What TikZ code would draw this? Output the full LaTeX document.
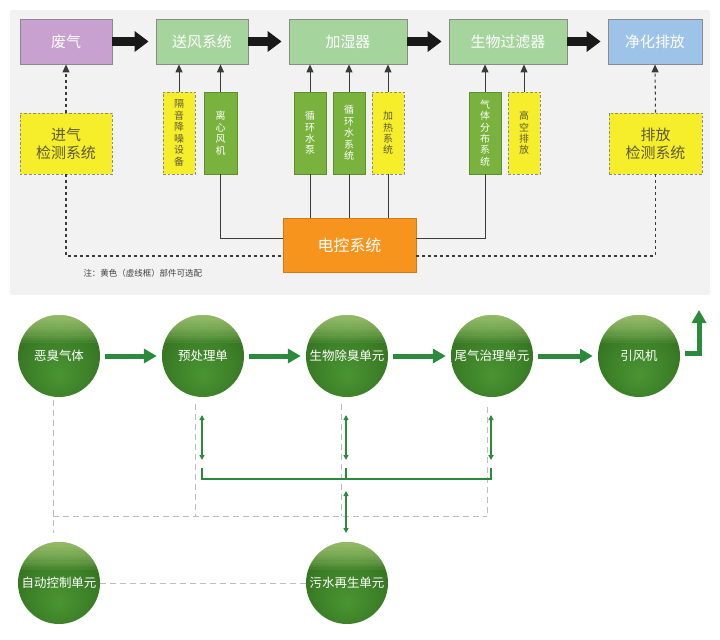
\documentclass[tikz,border=0pt]{standalone}
\usepackage{fontspec}
\setmainfont{Noto Sans CJK SC}
\usetikzlibrary{arrows.meta}
\definecolor{bgtop}{HTML}{F2F2F2}
\definecolor{purp}{HTML}{C9A1D1}
\definecolor{lgreen}{HTML}{A5D59C}
\definecolor{lblue}{HTML}{9EC3E8}
\definecolor{dgreen}{HTML}{79B23D}
\definecolor{dgreenline}{HTML}{5E8F2C}
\definecolor{yel}{HTML}{F6EE2B}
\definecolor{orng}{HTML}{F7941D}
\definecolor{orngline}{HTML}{D07A1C}
\definecolor{boxline}{HTML}{8A8A8A}
\definecolor{ytext}{HTML}{5C5A3A}
\definecolor{darkline}{HTML}{3A3A3A}
\definecolor{arrg}{HTML}{2B8A3B}
\definecolor{dashg}{HTML}{BDBDBD}
\definecolor{hl}{HTML}{C6E28C}
\definecolor{bA}{HTML}{4A9532}
\definecolor{bB}{HTML}{3A7C26}
\definecolor{bC}{HTML}{2B6019}
\definecolor{bD}{HTML}{1E4A10}
\pgfdeclareradialshading{ballg}{\pgfpoint{0bp}{-12bp}}{color(0bp)=(bA); color(22bp)=(bB); color(42bp)=(bC); color(52bp)=(bD)}
\tikzset{
  mainbox/.style={draw=boxline, line width=0.8bp, minimum height=45bp, inner sep=0pt, text=white, font=\fontsize{15}{17}\selectfont},
  vboxg/.style={draw=dgreenline, line width=0.8bp, fill=dgreen, minimum width=32bp, minimum height=82bp, inner sep=0pt, text=white, align=center, font=\fontsize{10}{11.5}\selectfont},
  vboxy/.style={draw=boxline, line width=0.9bp, dash pattern=on 2.5bp off 2bp, fill=yel, minimum width=32bp, minimum height=82bp, inner sep=0pt, text=ytext, align=center, font=\fontsize{10}{11.5}\selectfont},
  detbox/.style={draw=boxline, line width=0.9bp, dash pattern=on 2.5bp off 2bp, fill=yel, minimum height=61bp, inner sep=0pt, text=ytext, align=center, font=\fontsize{15}{18}\selectfont},
  bigarrow/.style={draw=black!90, line width=9bp, -{Triangle[length=14bp,width=20bp]}, shorten >=7bp},
  sarrow/.style={draw=darkline, line width=1bp, -{Triangle[length=8bp,width=7bp]}},
  sline/.style={draw=darkline, line width=1bp},
  dline/.style={draw=darkline, line width=1.1bp, dash pattern=on 3bp off 3bp},
  ballnode/.style={circle, minimum size=82bp, inner sep=0pt, shade, shading=ballg, text=white, font=\fontsize{12.5}{14}\selectfont,
    path picture={\foreach \k in {1,...,12}{\fill[hl, opacity=0.09] (path picture bounding box.north west) rectangle ([yshift=-2.3*\k bp]path picture bounding box.north east);}}},
  garrow/.style={draw=arrg, line width=5bp, -{Triangle[length=13bp,width=14bp]}},
  gthin/.style={draw=arrg, line width=1.5bp},
  gdarrow/.style={gthin, {Triangle[length=5bp,width=5bp]}-{Triangle[length=5bp,width=5bp]}},
  gdash/.style={draw=dashg, line width=1bp, dash pattern=on 6bp off 4bp}
}
\begin{document}
\begin{tikzpicture}[x=1bp,y=-1bp]
\useasboundingbox (0,0) rectangle (720,640);
\fill[bgtop] (10,10) rectangle (710,295);

% main boxes
\node[mainbox, fill=purp, minimum width=92bp] (fq) at (66,41.5) {废气};
\node[mainbox, fill=lgreen, minimum width=92bp] (sf) at (202,41.5) {送风系统};
\node[mainbox, fill=lgreen, minimum width=118bp] (jsq) at (348,41.5) {加湿器};
\node[mainbox, fill=lgreen, minimum width=118bp] (sw) at (508,41.5) {生物过滤器};
\node[mainbox, fill=lblue, minimum width=94bp] (jh) at (655,41.5) {净化排放};

\draw[bigarrow] (fq.east) -- (sf.west);
\draw[bigarrow] (sf.east) -- (jsq.west);
\draw[bigarrow] (jsq.east) -- (sw.west);
\draw[bigarrow] (sw.east) -- (jh.west);

% vertical boxes
\node[vboxy] (gy) at (179,133) {隔\\音\\降\\噪\\设\\备};
\node[vboxg, minimum width=33bp] (lx) at (220.5,133) {离\\心\\风\\机};
\node[vboxg] (xb) at (310,133) {循\\环\\水\\泵};
\node[vboxg] (xs) at (349,133) {循\\环\\水\\系\\统};
\node[vboxy] (jr) at (388,133) {加\\热\\系\\统};
\node[vboxg] (qt) at (485,133) {气\\体\\分\\布\\系\\统};
\node[vboxy] (gk) at (524,133) {高\\空\\排\\放};

\node[detbox, minimum width=92bp] (jq) at (66,143.5) {进气\\检测系统};
\node[detbox, minimum width=93bp] (pf) at (655.5,143.5) {排放\\检测系统};

\node[draw=orngline, line width=0.8bp, fill=orng, minimum width=133bp, minimum height=54bp, text=white, font=\fontsize{16}{18}\selectfont] (dk) at (349.5,245) {电控系统};

\foreach \n/\m in {gy/sf, lx/sf, xb/jsq, xs/jsq, jr/jsq, qt/sw, gk/sw}
  \draw[sarrow] (\n.north) -- (\n.north |- \m.south);

\draw[sline] (lx.south) |- ([yshift=7bp]dk.west);
\foreach \n in {xb,xs,jr}
  \draw[sline] (\n.south) -- (\n.south |- dk.north);
\draw[sline] (qt.south) |- ([yshift=7bp]dk.east);
\draw[dline] (jq.south) |- ([yshift=-11bp]dk.west);
\draw[dline] (pf.south) |- ([yshift=-11bp]dk.east);
\draw[dline, -{Triangle[length=8bp,width=7bp]}] (jq.north) -- (fq.south);
\draw[dline, -{Triangle[length=8bp,width=7bp]}] (pf.north) -- (jh.south);

\node[anchor=west, font=\fontsize{8.5}{10}\selectfont, text=black!75] (note) at (80,273) {注：黄色（虚线框）部件可选配};

% bottom panel
\coordinate (d1a) at (53,400);
\coordinate (d1b) at (53,533);
\coordinate (d1c) at (53,516);
\coordinate (d2a) at (195,404);
\coordinate (d2b) at (195,516);
\coordinate (d3a) at (341,404);
\coordinate (d3b) at (341,516);
\coordinate (d4a) at (487,407);
\coordinate (d4b) at (487,516);
\draw[gdash] (d1a) -- (d1b);
\draw[gdash] (d1c) -- (d4b);
\draw[gdash] (d2a) -- (d2b);
\draw[gdash] (d3a) -- (d3b);
\draw[gdash] (d4a) -- (d4b);

\node[ballnode] (ec) at (59,356) {恶臭气体};
\node[ballnode] (yc) at (203,356) {预处理单};
\node[ballnode] (sc) at (347,356) {生物除臭单元};
\node[ballnode] (wq) at (492,356) {尾气治理单元};
\node[ballnode] (yf) at (639,356) {引风机};
\node[ballnode] (zd) at (59,583) {自动控制单元};
\node[ballnode] (ws) at (347,583) {污水再生单元};

\draw[gdash] (zd.east) -- (ws.west);

\draw[garrow, shorten <=5bp, shorten >=5bp] (ec) -- (yc);
\draw[garrow, shorten <=5bp, shorten >=5bp] (yc) -- (sc);
\draw[garrow, shorten <=5bp, shorten >=5bp] (sc) -- (wq);
\draw[garrow, shorten <=5bp, shorten >=5bp] (wq) -- (yf);
\coordinate (yfup) at (699,310);
\draw[garrow] ([xshift=5bp,yshift=3bp]yf.east) -| (yfup);

\coordinate (a1t) at (202,415); \coordinate (a1b) at (202,460);
\coordinate (a2t) at (346,415); \coordinate (a2b) at (346,460);
\coordinate (a3t) at (491,415); \coordinate (a3b) at (491,460);
\coordinate (h1) at (202,468); \coordinate (h2) at (202,479);
\coordinate (h3) at (491,479); \coordinate (h4) at (491,468);
\coordinate (t1) at (346,479); \coordinate (t2) at (346,468);
\coordinate (a4t) at (346,491); \coordinate (a4b) at (346,533);
\draw[gdarrow] (a1t) -- (a1b);
\draw[gdarrow] (a2t) -- (a2b);
\draw[gdarrow] (a3t) -- (a3b);
\draw[gthin] (h1) -- (h2) -- (h3) -- (h4);
\draw[gthin] (t1) -- (t2);
\draw[gdarrow] (a4t) -- (a4b);
\end{tikzpicture}
\end{document}
